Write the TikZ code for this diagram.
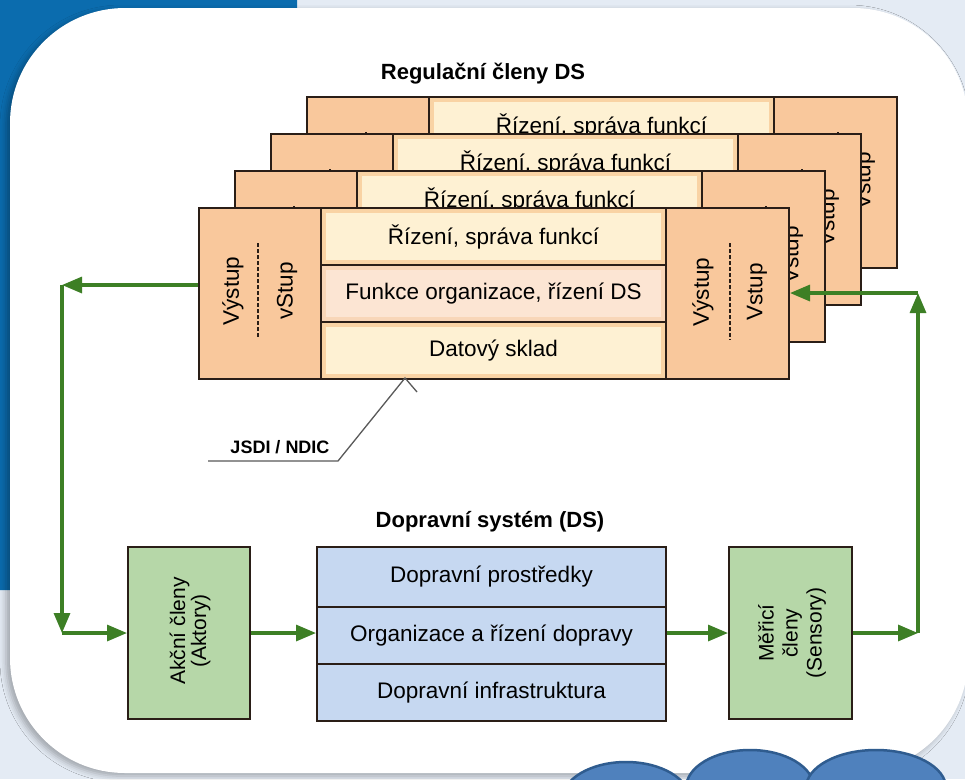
\documentclass[tikz,border=0pt]{standalone}
\usepackage{fontspec}
\setmainfont{Liberation Sans}
\usetikzlibrary{arrows.meta,shadows.blur}
\definecolor{bgc}{HTML}{E4EBF4}
\definecolor{topblue}{HTML}{0B6CAE}
\definecolor{edge}{HTML}{2A1E17}
\definecolor{colf}{HTML}{F9C89C}
\definecolor{bandA}{HTML}{F9D3A4}
\definecolor{innA}{HTML}{FEF1D3}
\definecolor{bandB}{HTML}{F8D6B8}
\definecolor{innB}{HTML}{FCE5D3}
\definecolor{grn}{HTML}{3D7F25}
\definecolor{gfill}{HTML}{B6D7A8}
\definecolor{bfill}{HTML}{C6D8F1}
\definecolor{circf}{HTML}{4F81BD}
\definecolor{circd}{HTML}{2F5C8F}
\begin{document}
\begin{tikzpicture}[x=1pt,y=-1pt,
  txt/.style={font=\fontsize{22.5}{26}\selectfont},
  ttl/.style={font=\bfseries\fontsize{22}{26}\selectfont},
  colbox/.style={draw=edge, line width=2pt, fill=colf, anchor=north west, inner sep=0pt, minimum height=171pt},
  rowbox/.style 2 args={draw=edge, line width=2pt, fill=#1, anchor=north west, inner sep=0pt,
     minimum width=345pt, minimum height=57pt, txt,
     path picture={\fill[#2] ([shift={(5pt,-5pt)}]path picture bounding box.north west) rectangle ([shift={(-5pt,5pt)}]path picture bounding box.south east);}},
  dline/.style={draw=edge, line width=1.2pt, dash pattern=on 4pt off 2pt},
  gbox/.style={draw=edge, line width=2pt, fill=gfill, inner sep=0pt},
  bbox/.style={draw=edge, line width=2pt, fill=bfill, inner sep=0pt, anchor=north west, minimum width=349pt, txt},
  arr/.style={draw=grn, line width=3.2pt, -{Triangle[length=20pt,width=16pt]}},
  callout/.style={draw=black!65, line width=1.3pt}
]
\useasboundingbox (0,0) rectangle (965,779);
\fill[bgc] (0,0) rectangle (965,779);
\fill[topblue, rounded corners=12pt] (-20,-20) rectangle (297,590);
\fill[white, rounded corners=115pt, blur shadow={shadow xshift=-4pt, shadow yshift=-3pt, shadow blur radius=6pt, shadow opacity=30}] (10,8) rectangle (968,773);
% decorative circles
\filldraw[fill=circf, draw=circd, line width=2.5pt] (626,800) ellipse [x radius=64pt, y radius=38pt];
\filldraw[fill=circf, draw=circd, line width=2.5pt] (750,788) ellipse [x radius=64pt, y radius=38pt];
\filldraw[fill=circf, draw=circd, line width=2.5pt] (876,788) ellipse [x radius=70pt, y radius=38pt];
% title
\node[ttl] (t1) at (483,74) {Regulační členy DS};
% stacked layers (back ones only show what is not hidden)
\foreach \k in {3,2,1,0}{
\begin{scope}[shift={(36*\k,-37*\k)}]
 \node[colbox, minimum width=122pt] (lc\k) at (198,207) {};
 \node[rowbox={bandA}{innA}] (ra\k) at (320,207) {Řízení, správa funkcí};
 \ifnum\k=0
 \node[rowbox={bandB}{innB}] (rb\k) at (320,264) {Funkce organizace, řízení DS};
 \node[rowbox={bandA}{innA}] (rr\k) at (320,321) {Datový sklad};
 \else
 \node[rowbox={bandB}{innB}] (rb\k) at (320,264) {};
 \node[rowbox={bandA}{innA}] (rr\k) at (320,321) {};
 \fi
 \node[colbox, minimum width=123pt] (rc\k) at (665,207) {};
 \draw[dline] (258,243) -- (258,337);
 \draw[dline] (730,243) -- (730,340);
 \node[txt, rotate=90] (rs\k) at (757,292) {Vstup};
 \ifnum\k=0
 \node[txt, rotate=90] (lv\k) at (233,291) {Výstup};
 \node[txt, rotate=90] (ls\k) at (287,291) {vStup};
 \node[txt, rotate=90] (rv\k) at (703,292) {Výstup};
 \fi
\end{scope}}
% callout
\coordinate (j1) at (208,461);
\coordinate (j2) at (338,461);
\coordinate (j3) at (405,378);
\coordinate (j4) at (417,392);
\draw[callout] (j1) -- (j2) -- (j3) -- (j4);
\node[font=\bfseries\fontsize{18}{20}\selectfont] (jsdi) at (280,447) {JSDI / NDIC};
% bottom system
\node[ttl] (t2) at (490,522) {Dopravní systém (DS)};
\node[gbox, minimum width=122pt, minimum height=172pt] (akc) at (189,633) {};
\node[font=\fontsize{21}{21}\selectfont, rotate=90, align=center] (akct) at (190,631) {Akční členy\\(Aktory)};
\node[bbox, minimum height=60pt] (ds1) at (316,546) {Dopravní prostředky};
\node[bbox, minimum height=57pt] (ds2) at (316,606) {Organizace a řízení dopravy};
\node[bbox, minimum height=57pt] (ds3) at (316,663) {Dopravní infrastruktura};
\node[gbox, minimum width=123pt, minimum height=172pt] (mer) at (790.5,633) {};
\node[font=\fontsize{21}{24}\selectfont, rotate=90, align=center] (mert) at (792,633) {Měřicí\\členy\\(Sensory)};
% arrows
\coordinate (c1) at (62,285);
\coordinate (c2) at (62,633);
\coordinate (c3) at (918,633);
\coordinate (c4) at (918,293);
\draw[arr] (c1 -| lc0.west) -- (c1);
\draw[arr] (c1) -- (c2);
\draw[arr] (c2) -- (c2 -| akc.west);
\draw[arr] (akc.east) -- (akc.east -| ds2.west);
\draw[arr] (ds2.east |- mer.west) -- (mer.west);
\draw[arr] (mer.east) -- (c3);
\draw[arr] (c3) -- (c4);
\draw[arr] (c4) -- (c4 -| rc0.east);
\end{tikzpicture}
\end{document}
